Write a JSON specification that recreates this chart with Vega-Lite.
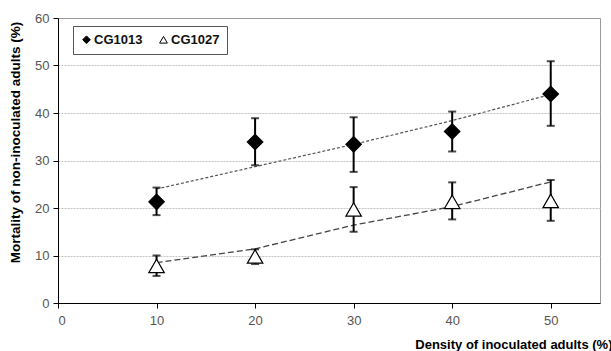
{
  "$schema": "https://vega.github.io/schema/vega-lite/v6.json",
  "width": 542,
  "height": 285,
  "autosize": {"type": "none"},
  "padding": {"left": 58, "top": 18, "right": 11, "bottom": 48},
  "background": "white",
  "config": {
    "view": {"stroke": "#9a9a9a", "strokeWidth": 1},
    "font": "Liberation Sans",
    "axisY": {
      "values": [0, 2, 4, 6, 8, 10, 12, 14, 16, 18, 20, 22, 24, 26, 28, 30, 32, 34, 36, 38, 40, 42, 44, 46, 48, 50, 52, 54, 56, 58, 60],
      "labelExpr": "datum.value % 10 === 0 ? datum.label : ''",
      "labelOverlap": false,
      "titleFont": "Liberation Sans", "titleFontSize": 13.5, "titleFontWeight": "bold", "titleColor": "#000",
      "titleX": -43, "titleY": 124, "titleAngle": -90, "titleAlign": "center", "titleBaseline": "middle",
      "labelFont": "Liberation Sans", "labelFontSize": 13, "labelColor": "#555", "labelPadding": 4,
      "domainColor": "#000", "domainWidth": 1, "tickColor": "#000", "tickSize": 5, "tickWidth": 1,
      "grid": true,
      "gridColor": "#c4c4c4", "gridDash": [2, 1], "gridWidth": 1
    },
    "legend": {
      "strokeColor": "#555", "padding": 7, "fillColor": "white",
      "labelFont": "Liberation Sans", "labelFontSize": 13, "labelFontWeight": "bold", "labelColor": "#111",
      "symbolSize": 60, "symbolStrokeWidth": 1,
      "columnPadding": 14, "labelOffset": 1
    }
  },
  "data": {
    "values": [
      {"series": "CG1013", "x": 10, "y": 21.3, "lo": 18.5, "hi": 24.3, "trend": 24.0},
      {"series": "CG1013", "x": 20, "y": 33.9, "lo": 29.0, "hi": 38.9, "trend": 28.7},
      {"series": "CG1013", "x": 30, "y": 33.4, "lo": 27.6, "hi": 39.1, "trend": 33.4},
      {"series": "CG1013", "x": 40, "y": 36.1, "lo": 31.9, "hi": 40.3, "trend": 38.4},
      {"series": "CG1013", "x": 50, "y": 44.0, "lo": 37.3, "hi": 50.9, "trend": 43.9},
      {"series": "CG1027", "x": 10, "y": 7.8, "lo": 5.7, "hi": 10.0, "trend": 8.5},
      {"series": "CG1027", "x": 20, "y": 9.8, "lo": 8.2, "hi": 11.3, "trend": 11.4},
      {"series": "CG1027", "x": 30, "y": 19.7, "lo": 15.0, "hi": 24.4, "trend": 16.4},
      {"series": "CG1027", "x": 40, "y": 21.3, "lo": 17.6, "hi": 25.4, "trend": 20.3},
      {"series": "CG1027", "x": 50, "y": 21.5, "lo": 17.3, "hi": 25.9, "trend": 25.5}
    ]
  },
  "encoding": {
    "x": {
      "field": "x", "type": "quantitative",
      "scale": {"domain": [0, 55], "nice": false, "zero": false},
      "axis": {
        "values": [0, 10, 20, 30, 40, 50],
        "title": "Density of inoculated adults (%)",
        "titleFont": "Liberation Sans", "titleFontSize": 13, "titleFontWeight": "bold", "titleColor": "#000",
        "titleAnchor": "end", "titleAlign": "right", "titleX": 554, "titleY": 45, "titleBaseline": "alphabetic",
        "labelFont": "Liberation Sans", "labelFontSize": 13, "labelColor": "#555", "labelPadding": 6,
        "domainColor": "#000", "domainWidth": 1, "tickColor": "#000", "tickSize": 5,
        "grid": false, "labelOverlap": false
      }
    }
  },
  "layer": [
    {
      "mark": {"type": "line", "strokeDash": [3, 2], "strokeWidth": 1.2, "color": "#555"},
      "transform": [{"filter": "datum.series === 'CG1013'"}],
      "encoding": {
        "y": {
          "field": "trend", "type": "quantitative",
          "scale": {"domain": [0, 60], "nice": false},
          "axis": {"title": "Mortality of non-inoculated adults (%)", "gridOpacity": {"condition": {"test": "datum.value % 10 === 0 && datum.value > 0 && datum.value < 60", "value": 1}, "value": 0}}
        }
      }
    },
    {
      "mark": {"type": "line", "strokeDash": [6, 3], "strokeWidth": 1.3, "color": "#444"},
      "transform": [{"filter": "datum.series === 'CG1027'"}],
      "encoding": {"y": {"field": "trend", "type": "quantitative", "axis": {"title": "Mortality of non-inoculated adults (%)", "gridOpacity": {"condition": {"test": "datum.value % 10 === 0 && datum.value > 0 && datum.value < 60", "value": 1}, "value": 0}}}}
    },
    {
      "mark": {"type": "rule", "color": "#000", "strokeWidth": 2},
      "encoding": {
        "y": {"field": "lo", "type": "quantitative", "axis": {"title": "Mortality of non-inoculated adults (%)", "gridOpacity": {"condition": {"test": "datum.value % 10 === 0 && datum.value > 0 && datum.value < 60", "value": 1}, "value": 0}}},
        "y2": {"field": "hi"}
      }
    },
    {
      "mark": {"type": "tick", "orient": "horizontal", "color": "#000", "size": 8, "thickness": 2},
      "encoding": {"y": {"field": "lo", "type": "quantitative", "axis": {"title": "Mortality of non-inoculated adults (%)", "gridOpacity": {"condition": {"test": "datum.value % 10 === 0 && datum.value > 0 && datum.value < 60", "value": 1}, "value": 0}}}}
    },
    {
      "mark": {"type": "tick", "orient": "horizontal", "color": "#000", "size": 8, "thickness": 2},
      "encoding": {"y": {"field": "hi", "type": "quantitative", "axis": {"title": "Mortality of non-inoculated adults (%)", "gridOpacity": {"condition": {"test": "datum.value % 10 === 0 && datum.value > 0 && datum.value < 60", "value": 1}, "value": 0}}}}
    },
    {
      "mark": {"type": "point", "opacity": 1, "strokeWidth": 1.2, "size": 240},
      "encoding": {
        "y": {"field": "y", "type": "quantitative", "axis": {"title": "Mortality of non-inoculated adults (%)", "gridOpacity": {"condition": {"test": "datum.value % 10 === 0 && datum.value > 0 && datum.value < 60", "value": 1}, "value": 0}}},
        "shape": {
          "field": "series", "type": "nominal",
          "scale": {"domain": ["CG1013", "CG1027"], "range": ["diamond", "triangle-up"]},
          "legend": {"title": null, "orient": "none", "legendX": 15, "legendY": 8, "direction": "horizontal"}
        },
        "fill": {
          "field": "series", "type": "nominal",
          "scale": {"domain": ["CG1013", "CG1027"], "range": ["#000", "#fff"]},
          "legend": {"title": null, "orient": "none", "legendX": 15, "legendY": 8, "direction": "horizontal"}
        },
        "stroke": {
          "field": "series", "type": "nominal",
          "scale": {"domain": ["CG1013", "CG1027"], "range": ["#000", "#000"]},
          "legend": {"title": null, "orient": "none", "legendX": 15, "legendY": 8, "direction": "horizontal"}
        }
      }
    }
  ]
}
